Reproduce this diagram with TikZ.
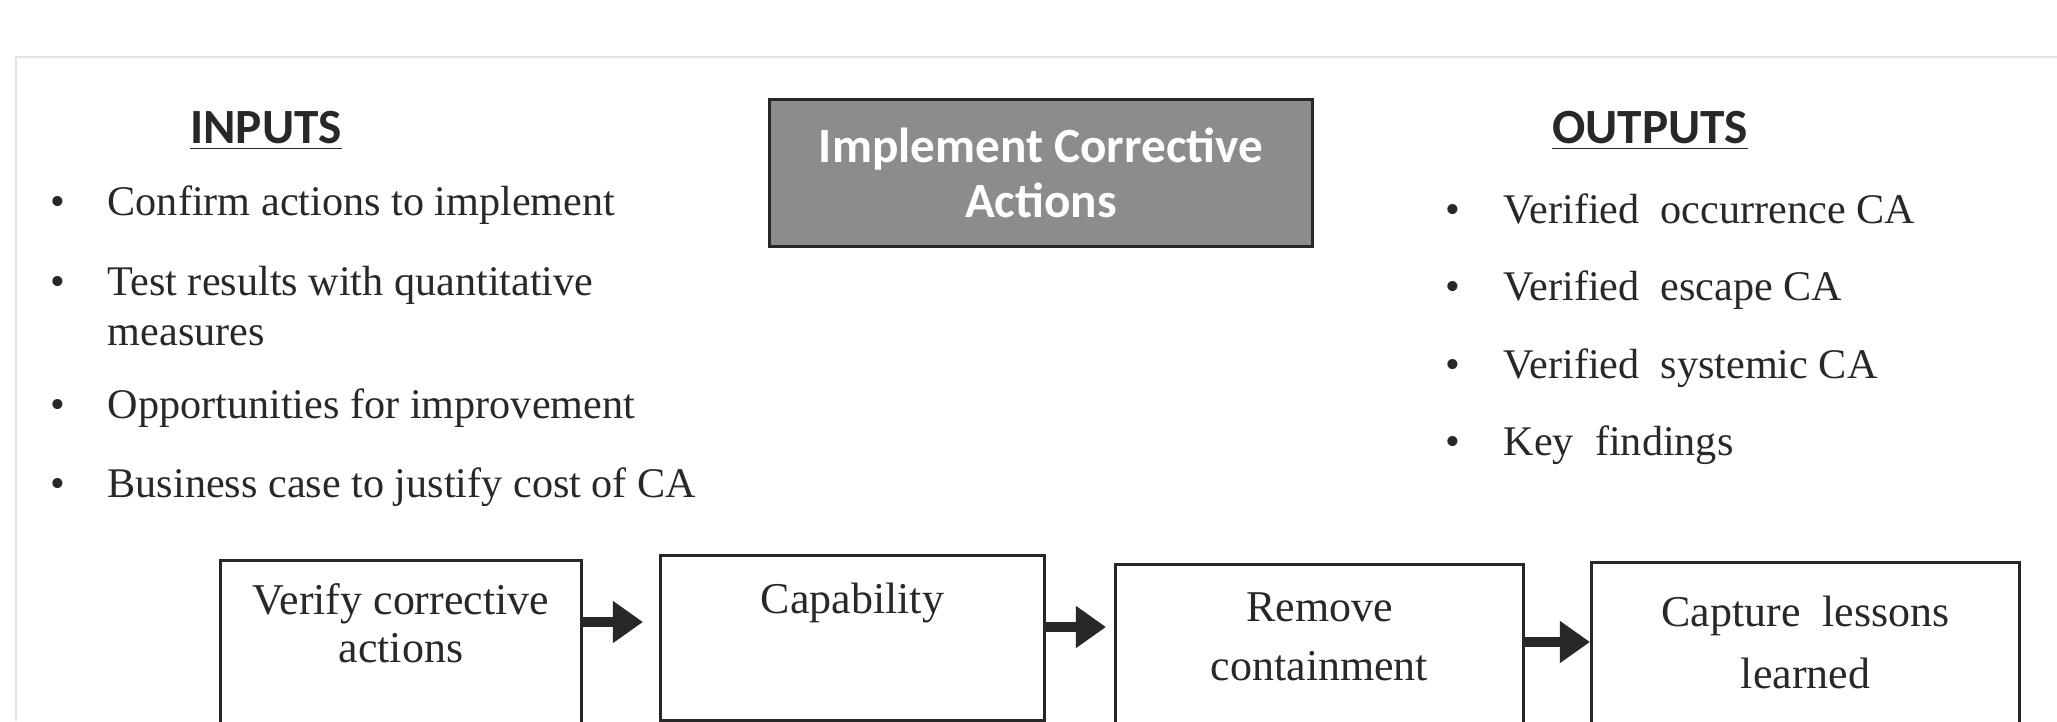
\documentclass[tikz,border=0pt]{standalone}
\usepackage{fontspec}
\setmainfont{Liberation Serif}
\newfontfamily\calibri{Carlito}
\usetikzlibrary{arrows.meta,positioning,calc}
\definecolor{Tgrey}{RGB}{140,140,140}
\definecolor{Tdark}{RGB}{40,40,40}
\definecolor{Fline}{RGB}{228,228,228}
\tikzset{
    headtxt/.style={
        font=\calibri\fontsize{14}{16}\selectfont\bfseries, text=Tdark, inner sep=0pt
    },
    titlebox/.style={
        rectangle, draw=Tdark, line width=0.9pt, fill=Tgrey, text=white,
        minimum width=5.42cm, minimum height=1.47cm, align=center,
        font=\calibri\fontsize{14}{15.5}\selectfont\bfseries, inner sep=0pt
    },
    itemtxt/.style={anchor=base west, font=\fontsize{12}{14}\selectfont, text=Tdark, inner sep=0pt},
    itemdot/.style={anchor=base, font=\fontsize{12}{14}\selectfont, text=Tdark, inner sep=0pt},
    stepbox/.style={rectangle, draw=Tdark, line width=0.75pt, anchor=north west, inner sep=0pt},
    steptxt/.style={
        anchor=north, align=center, font=\fontsize{12.5}{15}\selectfont, text=Tdark, inner sep=0pt
    },
    flowarr/.style={-{Triangle[length=0.3cm, width=0.4cm]}, line width=0.1cm, Tdark},
}

\begin{document}
\begin{tikzpicture}[x=0.01cm, y=-0.01cm]
    \clip (0,0) rectangle (2057,721);

    % ── frame ─────────────────────────────────────────
    \draw [Fline, line width=0.8pt] (16,721) -- (16,57) -- (2057,57);

    % ── title ─────────────────────────────────────────
    \node [titlebox] (title) at (1041,173) {Implement Corrective\\Actions};

    % ── inputs ────────────────────────────────────────
    \node [headtxt] (inhead) at (266,131) {\underline{INPUTS}};
    \foreach \i/\y/\txt in {1/215/Confirm actions to implement,
                            2/295/Test results with quantitative,
                            3/418/Opportunities for improvement,
                            4/497/Business case to justify cost of CA} {
        \node [itemdot] (indot\i) at (58,\y) {•};
        \node [itemtxt] (in\i) at (107,\y) {\txt};
    }
    \node [itemtxt] (in2b) at ([yshift=-0.5cm]in2.base west) {measures};

    % ── outputs ───────────────────────────────────────
    \node [headtxt] (outhead) at (1650,131) {\underline{OUTPUTS}};
    \foreach \i/\y/\txt in {1/223/Verified\ \ occurrence CA,
                            2/300/Verified\ \ escape CA,
                            3/378/Verified\ \ systemic CA,
                            4/455/Key\ \ findings} {
        \node [itemdot] (outdot\i) at (1453,\y) {•};
        \node [itemtxt] (out\i) at (1503,\y) {\txt};
    }

    % ── steps ─────────────────────────────────────────
    \node [stepbox, minimum width=3.61cm, minimum height=2.2cm]  (s1) at (219,559) {};
    \node [stepbox, minimum width=3.84cm, minimum height=1.65cm] (s2) at (659,554) {};
    \node [stepbox, minimum width=4.08cm, minimum height=2.2cm]  (s3) at (1114,563) {};
    \node [stepbox, minimum width=4.28cm, minimum height=2.2cm]  (s4) at (1590,561) {};

    \node [steptxt, below=0.24cm of s1.north] (t1) {Verify corrective\\[-1.4pt]actions};
    \node [steptxt, below=0.28cm of s2.north] (t2) {Capability};
    \node [steptxt, below=0.29cm of s3.north] (t3) {Remove\\[1.7pt]containment};
    \node [steptxt, below=0.34cm of s4.north] (t4) {Capture\ \ lessons\\[2.6pt]learned};

    % ── arrows ────────────────────────────────────────
    \coordinate (a1) at (0,622);
    \coordinate (a2) at (0,627);
    \coordinate (a3) at (0,642);
    \draw [flowarr, shorten >=0.16cm] (s1.east |- a1) -- (s2.west |- a1);
    \draw [flowarr, shorten >=0.08cm] (s2.east |- a2) -- (s3.west |- a2);
    \draw [flowarr] (s3.east |- a3) -- (s4.west |- a3);

\end{tikzpicture}
\end{document}
